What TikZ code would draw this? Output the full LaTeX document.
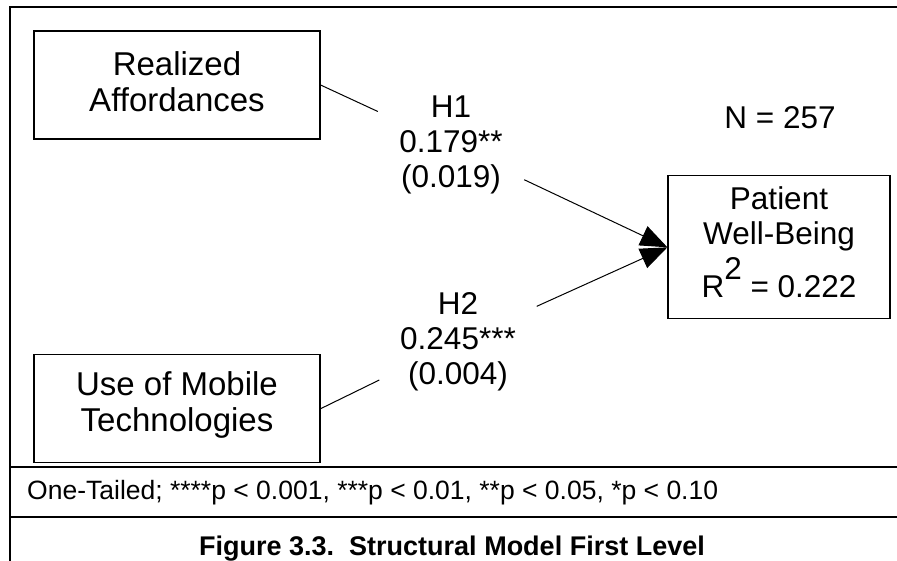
\documentclass[tikz,border=0pt]{standalone}
\usepackage{fontspec}
\setmainfont{Liberation Sans}
\usetikzlibrary{arrows.meta}

% text sizes
\newcommand{\boxtext}{\fontsize{33}{36}\selectfont}
\newcommand{\bigtext}{\fontsize{31.5}{35}\selectfont}
\newcommand{\smalltext}{\fontsize{26.5}{30}\selectfont}
\newcommand{\captext}{\fontsize{27}{30}\selectfont\bfseries}
% invisible depth used to lift a text block inside its box
\newcommand{\dropby}[1]{\rule[-#1]{0pt}{#1}}

\begin{document}
\begin{tikzpicture}[x=1pt,y=-1pt,
  frame/.style={line width=2.4pt, line join=miter},
  construct/.style={draw, line width=1.2pt, minimum width=286pt,
    minimum height=108pt, inner sep=0pt, align=center, font=\boxtext},
  coef/.style={inner sep=0pt, align=center, font=\bigtext},
  link/.style={line width=1pt},
  tip/.style={-{Triangle[length=27pt,width=21pt]}}]

\useasboundingbox (0,0) rectangle (897,560);

% outer frame and footer rules
\draw[frame] (900,7) -- (10,7) -- (10,565);
\draw[frame] (10,467) -- (900,467);
\draw[frame] (10,517) -- (900,517);

% constructs
\node[construct] (ra) at (177,85) {Realized\\Affordances\dropby{7.6pt}};
\node[construct] (mt) at (177,408.7) {Use of Mobile\\Technologies\dropby{15pt}};
\node[construct, font=\bigtext, minimum width=222pt, minimum height=143pt] (pw) at (779,247.3)
  {Patient\\Well-Being\\[18pt]R\smash{\raisebox{18pt}{2}} = 0.222\dropby{9.5pt}};

% path coefficients
\node[coef, minimum width=146pt] (h1) at (451,145.3) {H1\\0.179**\\(0.019)};
\node[coef, minimum width=157pt] (h2) at (458,341.7) {H2\\0.245***\\(0.004)};

\node[coef] (n) at (780,118) {N = 257};

% paths
\draw[link] (ra.east) -- (h1);
\draw[link, tip] (h1) -- (pw.west);
\draw[link] (mt.east) -- (h2);
\draw[link, tip] (h2) -- (pw.west);

% footer
\node[anchor=base west, inner sep=0pt, font=\smalltext] (note) at (27,499)
  {One-Tailed; ****p < 0.001, ***p < 0.01, **p < 0.05, *p < 0.10};
\node[anchor=base, inner sep=0pt, font=\captext] (caption) at (452,555)
  {Figure 3.3.\ \ Structural Model First Level};
\end{tikzpicture}
\end{document}
